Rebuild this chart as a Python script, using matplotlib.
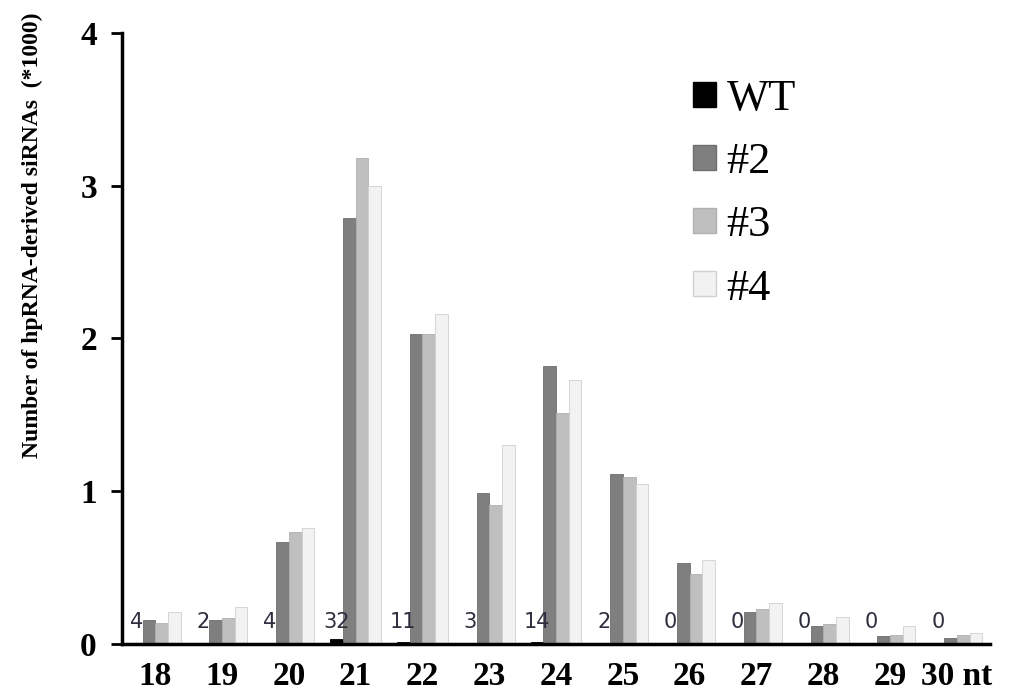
import matplotlib
matplotlib.use("Agg")
import matplotlib.pyplot as plt
import numpy as np
from matplotlib.patches import Patch

lengths = ["18", "19", "20", "21", "22", "23", "24", "25", "26", "27", "28", "29", "30 nt"]
# reads counted per length (WT as raw counts, mutants in thousands)
wt_counts = [4, 2, 4, 32, 11, 3, 14, 2, 0, 0, 0, 0, 0]
line2 = [0.16, 0.16, 0.67, 2.79, 2.03, 0.99, 1.82, 1.11, 0.53, 0.21, 0.12, 0.05, 0.04]
line3 = [0.14, 0.17, 0.73, 3.18, 2.03, 0.91, 1.51, 1.09, 0.46, 0.23, 0.13, 0.06, 0.06]
line4 = [0.21, 0.24, 0.76, 3.00, 2.16, 1.30, 1.73, 1.05, 0.55, 0.27, 0.18, 0.12, 0.07]
series_names = ["WT", "#2", "#3", "#4"]

serif = ["Liberation Serif", "DejaVu Serif"]

fig = plt.figure(figsize=(10.24, 7), dpi=100)
ax = fig.add_axes([0.119, 0.08, 0.848, 0.873])

x = np.arange(len(lengths))
w = 0.19
wt = np.array(wt_counts) / 1000.0
series = [wt, line2, line3, line4]
colors = ["#000000", "#7f7f7f", "#bfbfbf", "#f2f2f2"]
edges = ["#000000", "#6f6f6f", "#b0b0b0", "#d0d0d0"]
for i, (vals, c, e) in enumerate(zip(series, colors, edges)):
    ax.bar(x + (i - 1.5) * w, vals, w, color=c, edgecolor=e, linewidth=0.6)

# raw WT counts written above the tiny WT bars
for xi, n in zip(x, wt_counts):
    ax.text(xi - 1.5 * w, 0.08, str(n), ha="center", va="bottom",
            fontsize=15, color="#2e2e3e", family="DejaVu Sans")

ax.set_xlim(-0.5, len(lengths) - 0.5)
ax.set_ylim(0, 4)
ax.set_yticks([0, 1, 2, 3, 4])
ax.set_xticks(x)
ax.set_xticklabels(lengths)
for lab in ax.get_xticklabels() + ax.get_yticklabels():
    lab.set_family(serif)
    lab.set_fontweight("bold")
    lab.set_fontsize(24)
ax.tick_params(axis="x", length=0, pad=12)
ax.tick_params(axis="y", direction="out", length=8, width=2, pad=10)

for s in ["top", "right"]:
    ax.spines[s].set_visible(False)
for s in ["left", "bottom"]:
    ax.spines[s].set_linewidth(2.5)

fig.text(0.032, 0.664, "Number of hpRNA-derived siRNAs  (*1000)", rotation=90,
         ha="center", va="center", fontsize=17, fontweight="bold", family=serif)

handles = [Patch(facecolor=c, edgecolor=e) for c, e in zip(colors, edges)]
ax.legend(handles, series_names, loc="upper left", bbox_to_anchor=(0.638, 0.944),
          bbox_transform=fig.transFigure, frameon=False,
          prop={"family": serif, "size": 32}, handlelength=0.5, handleheight=0.5,
          handletextpad=0.25, labelspacing=0.52)

fig.savefig("out.png", dpi=100)
